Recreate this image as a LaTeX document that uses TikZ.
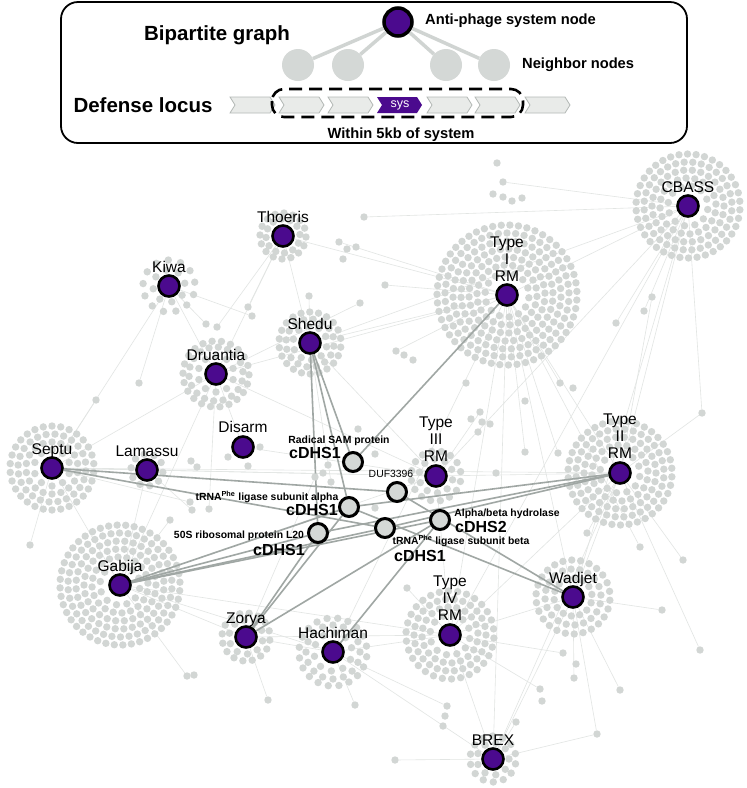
\documentclass[tikz,border=0pt]{standalone}
\usepackage{fontspec}
\setmainfont{Liberation Sans}
\usetikzlibrary{calc}
\definecolor{purp}{HTML}{4B0A8E}
\definecolor{dotc}{HTML}{D2D6D4}
\definecolor{edgec}{HTML}{A0A7A4}
\definecolor{faintc}{HTML}{E2E5E3}
\definecolor{nodefill}{HTML}{D4D8D6}
\definecolor{genefill}{HTML}{E9EBE9}
\definecolor{genedraw}{HTML}{B4B9B6}
\definecolor{leglink}{HTML}{D0D4D2}
\pgfdeclarelayer{faintlayer}
\pgfdeclarelayer{dotlayer}
\pgfdeclarelayer{edgelayer}
\pgfsetlayers{faintlayer,dotlayer,edgelayer,main}
\newcommand\dotclust[3]{%
  \foreach \rr/\nn in {#3}{%
    \foreach \kk in {1,...,\nn}{%
      \fill[dotc] ($(#1,#2)+({360/\nn*\kk+\rr*5}:\rr)$) circle (3.7pt);
    }}}
\begin{document}
\begin{tikzpicture}[x=1pt,y=-1pt,
  sysnode/.style={circle,fill=purp,draw=black,line width=2.6pt,minimum size=21pt,inner sep=0pt},
  cdhs/.style={circle,fill=nodefill,draw=black,line width=3pt,minimum size=19pt,inner sep=0pt},
  freedot/.style={circle,fill=dotc,minimum size=7.4pt,inner sep=0pt},
  syslab/.style={font=\fontsize{15.5}{17}\selectfont,inner sep=0pt,anchor=base},
  mlab/.style={font=\fontsize{15.5}{17}\selectfont,inner sep=0pt,anchor=south,align=center},
  cname/.style={font=\bfseries\fontsize{16}{18}\selectfont,inner sep=0pt},
  cdesc/.style={font=\bfseries\fontsize{10.4}{12}\selectfont,inner sep=0pt},
  faint/.style={draw=faintc,line width=0.6pt},
  link/.style={draw=edgec,line width=1.6pt},
  gene/.style={fill=genefill,draw=genedraw,line width=0.8pt},
  legtext/.style={font=\bfseries\fontsize{14.7}{16}\selectfont,inner sep=0pt},
  legtitle/.style={font=\bfseries\fontsize{20.5}{22}\selectfont,inner sep=0pt},
  leggrey/.style={circle,fill=nodefill,minimum size=32pt,inner sep=0pt},
  legsys/.style={circle,fill=purp,draw=black,line width=3.5pt,minimum size=28pt,inner sep=0pt},
  leglinkstyle/.style={draw=leglink,line width=3.5pt}
]
\useasboundingbox (0,0) rectangle (747,788);
\begin{pgfonlayer}{faintlayer}
\fill[white] (0,0) rectangle (747,788);
\end{pgfonlayer}

% ---------------- legend ----------------
\draw[black,line width=1.8pt,rounded corners=17pt] (61,2) rectangle (687,143);
\node[legtitle,anchor=base] (ltitle) at (217,40) {Bipartite graph};
\node[legtitle,anchor=base] (llocus) at (143,112) {Defense locus};
\node[leggrey] (lg1) at (298,65) {};
\node[leggrey] (lg2) at (348,65) {};
\node[leggrey] (lg3) at (446,65) {};
\node[leggrey] (lg4) at (494,65) {};
\node[legsys] (lsys) at (398,22) {};
\foreach \g in {lg1,lg2,lg3,lg4} \draw[leglinkstyle] (lsys) -- (\g);
\node[legtext,anchor=base west] (lanti) at (425,24) {Anti-phage system node};
\node[legtext,anchor=base west] (lneigh) at (522,68) {Neighbor nodes};
\foreach \x in {230,279,328,427,475,525}
  \draw[gene] (\x,97) -- (\x+40,97) -- (\x+45,105) -- (\x+40,113) -- (\x,113) -- (\x+5,105) -- cycle;
\fill[purp] (377,97) -- (417,97) -- (422,105) -- (417,113) -- (377,113) -- (382,105) -- cycle;
\node[text=white,font=\fontsize{12.5}{14}\selectfont,inner sep=0pt] (lsysgene) at (400,105) {sys};
\draw[black,line width=2.6pt,dash pattern=on 13pt off 7pt,rounded corners=12pt] (272,89) rectangle (523,117);
\node[legtext,anchor=base] (lwithin) at (401,138) {Within 5kb of system};

% ---------------- system nodes ----------------
\foreach \n/\x/\y in {cbass/688/206,thoeris/283/236,kiwa/169/286,t1/507/295,shedu/310/343,
  druantia/216/374,disarm/243/447,septu/52/468,lamassu/147/470,t3/436/476,t2/620/473,
  gabija/120/585,zorya/246/637,hachiman/333/652,t4/450/635,wadjet/573/597,brex/493/759}
  \node[sysnode] (\n) at (\x,\y) {};

% ---------------- cDHS nodes ----------------
\node[cdhs] (rsam) at (353,462) {};
\node[cdhs] (duf) at (397,492) {};
\node[cdhs] (ta) at (349,507) {};
\node[cdhs] (abh) at (440,520) {};
\node[cdhs] (tb) at (385,528) {};
\node[cdhs] (l20) at (318,533) {};

% ---------------- free dots ----------------
\foreach \n/\x/\y in {f1/364/217,f2/339/242,f3/347/249,f4/356/247,f5/343/259,f6/309/296,
  f7/248/307,f8/252/316,f9/360/303,f10/206/324,f11/217/327,f12/139/383,f13/503/182,
  f14/493/194,f15/503/197,f16/512/201,f17/522/198,f18/616/323,f19/396/351,f20/404/355,
  f21/413/360,f22/466/383,f23/471/419,f24/480/412,f25/482/422,f26/490/424,f27/478/432,
  f28/525/401,f29/525/452,f30/496/473,f31/358/429,f32/375/454,f33/328/465,f34/323/473,
  f35/315/477,f36/331/482,f37/191/461,f38/197/467,f39/190/502,f40/192/510,f41/209/509,
  f42/375/508,f43/228/457,f44/260/447,f45/558/453,f46/587/533,f47/640/547,f48/563/653,
  f49/576/664,f50/574/678,f51/540/689,f52/542/701,f53/516/722,f54/447/706,f55/445/716,
  f56/443/726,f57/597/734,f58/407/588,f59/187/676,f60/194/675,f61/652/297,f62/644/311,
  f63/560/383,f64/573/388,f65/702/413,f66/248/466,f67/385/285,f68/497/163,
  f69/683/560,f70/662/610,f71/700/650,f72/30/545,f73/96/400,f74/170/520,f75/395/760,
  f76/620/690,f77/355/705,f78/268/700}
  \node[freedot] (\n) at (\x,\y) {};

% ---------------- clusters ----------------
\begin{pgfonlayer}{dotlayer}
\dotclust{688}{206}{20/12,28/20,36/26,44/32,52/38}
\dotclust{507}{295}{22/14,30/22,38/28,46/34,54/39,62/45,70/51}
\dotclust{620}{473}{20/12,28/20,36/26,44/32,52/38}
\dotclust{120}{585}{20/12,28/20,36/26,44/32,52/38,60/44}
\dotclust{52}{468}{18/10,26/18,34/24,42/30}
\dotclust{450}{635}{20/12,28/20,36/26,44/30}
\dotclust{573}{597}{19/14,28/20,37/26}
\dotclust{436}{476}{17/10,25/16}
\dotclust{310}{343}{17/10,24/16,31/22}
\dotclust{216}{374}{18/10,27/18,33/22}
\dotclust{283}{236}{17/12,23/16}
\dotclust{169}{286}{16/8,26/13}
\dotclust{246}{637}{17/10,24/16}
\dotclust{333}{652}{19/10,27/16,34/20}
\dotclust{493}{759}{16/9,23/14}
\dotclust{147}{470}{16/10}
\end{pgfonlayer}

% ---------------- faint edges ----------------
\begin{pgfonlayer}{faintlayer}
\foreach \a/\b in {cbass/t1,cbass/f1,cbass/f13,cbass/t2,cbass/wadjet,cbass/t4,cbass/f18,
  cbass/shedu,cbass/t3,t1/thoeris,t1/f2,t1/shedu,t1/druantia,t1/t2,t1/wadjet,t1/t4,t1/brex,
  t1/f19,t1/hachiman,t1/f29,t1/f47,thoeris/druantia,thoeris/f7,thoeris/shedu,kiwa/druantia,
  kiwa/f12,kiwa/septu,kiwa/f8,druantia/septu,druantia/gabija,druantia/t3,druantia/f9,
  septu/gabija,septu/lamassu,septu/f39,septu/t3,septu/t2,gabija/zorya,gabija/hachiman,
  gabija/t4,gabija/f59,gabija/t3,gabija/lamassu,zorya/hachiman,zorya/t4,zorya/f35,
  hachiman/t4,hachiman/brex,hachiman/f54,t4/brex,t4/wadjet,t4/f58,wadjet/brex,wadjet/f50,
  wadjet/f57,t2/wadjet,t2/brex,t2/t4,t2/t3,t2/f46,t3/t4,t3/shedu,t3/f24,disarm/t3,
  lamassu/t3,disarm/druantia,f53/brex,f57/brex,t2/f65,t2/f61,t1/f63,cbass/f62,
  t2/f69,wadjet/f70,t2/f71,septu/f72,septu/f73,gabija/f74,brex/f75,wadjet/f76,hachiman/f77,
  zorya/f78,cbass/f65,t1/f45,shedu/f36,druantia/f41,lamassu/f40,kiwa/f10,thoeris/f11,
  t1/f67,shedu/f6,t4/f51,t4/f48}
  \draw[faint] (\a) -- (\b);
\end{pgfonlayer}

% ---------------- cDHS edges ----------------
\begin{pgfonlayer}{edgelayer}
\foreach \a/\b in {shedu/rsam,shedu/ta,shedu/l20,t1/rsam,septu/duf,septu/tb,
  gabija/l20,gabija/ta,gabija/tb,gabija/abh,t2/l20,t2/tb,t2/ta,zorya/l20,zorya/ta,
  zorya/abh,hachiman/abh,wadjet/duf,wadjet/ta}
  \draw[link] (\a) -- (\b);
\end{pgfonlayer}

% ---------------- labels ----------------
\node[syslab] (lcbass) at (688,192) {CBASS};
\node[syslab] (lthoeris) at (283,222) {Thoeris};
\node[syslab] (lkiwa) at (169,272) {Kiwa};
\node[mlab] (lt1) at (507,281.5) {Type\\I\\RM};
\node[syslab] (lshedu) at (310,329) {Shedu};
\node[syslab] (ldruantia) at (216,360) {Druantia};
\node[syslab] (ldisarm) at (243,432) {Disarm};
\node[syslab] (lseptu) at (52,454) {Septu};
\node[syslab] (llamassu) at (147,456) {Lamassu};
\node[mlab] (lt3) at (436,462) {Type\\III\\RM};
\node[mlab] (lt2) at (620,459) {Type\\II\\RM};
\node[syslab] (lgabija) at (120,571) {Gabija};
\node[syslab] (lzorya) at (246,623) {Zorya};
\node[syslab] (lhachiman) at (333,638) {Hachiman};
\node[mlab] (lt4) at (450,621) {Type\\IV\\RM};
\node[syslab] (lwadjet) at (573,583) {Wadjet};
\node[syslab] (lbrex) at (493,745) {BREX};

\node[cdesc] (drsam) at (339,441) {Radical SAM protein};
\node[cname] (nrsam) at (315,453) {cDHS1};
\node[font=\fontsize{10.4}{12}\selectfont,inner sep=0pt] (dduf) at (391,474) {DUF3396};
\node[cdesc] (dta) at (267,497) {tRNA\textsuperscript{Phe} ligase subunit alpha};
\node[cname] (nta) at (312,510) {cDHS1};
\node[cdesc] (dabh) at (507,514) {Alpha/beta hydrolase};
\node[cname] (nabh) at (481,527) {cDHS2};
\node[cdesc] (dtb) at (461,541) {tRNA\textsuperscript{Phe} ligase subunit beta};
\node[cname] (ntb) at (420,556) {cDHS1};
\node[cdesc] (dl20) at (239,536) {50S ribosomal protein L20};
\node[cname] (nl20) at (279,550) {cDHS1};
\end{tikzpicture}
\end{document}
